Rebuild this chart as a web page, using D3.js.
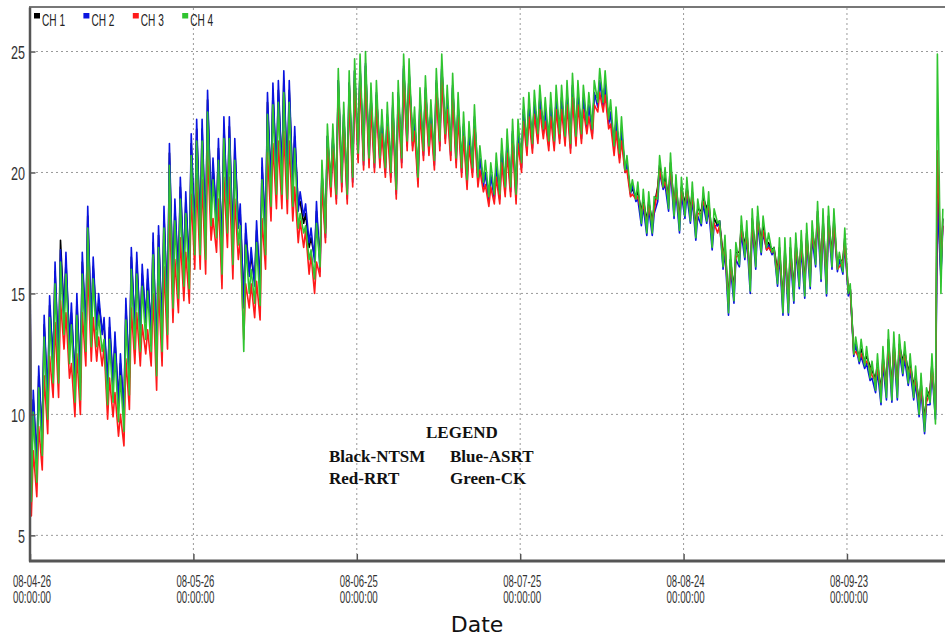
<!DOCTYPE html>
<html>
<head>
<meta charset="utf-8">
<script src="https://cdn.jsdelivr.net/npm/d3@7"></script>
<style>
body { margin: 0; background: #fff; }
</style>
</head>
<body>
<div id="chart"></div>
<script>
// channel names + colours
var channels = ["CH 1", "CH 2", "CH 3", "CH 4"];
var colors = ["#000000", "#0a14e0", "#ff1a1a", "#30c430"];
var legendRows = [["Black-NTSM", "Blue-ASRT"], ["Red-RRT", "Green-CK"]];

// first day 08-04-26 00:00, ticks every 30 days
var startDate = Date.UTC(2008, 3, 26);
var tickDays = [0, 30, 60, 90, 120, 150];
var yTicks = [5, 10, 15, 20, 25];

// value at the first sample, then daily low / daily high
var startVals = [15.6, 16.1, 15.4, 15.0];

var ch1Hi = [10.6,11.6,13.7,14.5,15.9,17.2,16.3,14.2,14.6,16.3,18.2,16.1,14.6,13.6,13.6,13.0,12.1,14.4,16.5,16.3,
15.8,15.6,17.1,17.4,18.2,20.8,18.5,19.4,18.8,21.2,21.8,21.8,23.0,20.2,21.0,21.9,21.9,21.0,18.3,17.5,
16.5,17.6,20.2,22.9,23.3,23.4,23.8,23.4,21.5,18.8,18.3,17.3,18.4,20.0,21.5,21.5,23.8,22.4,23.7,24.2,
24.3,24.4,23.1,23.2,22.0,22.3,22.7,23.2,24.3,24.1,22.1,22.9,23.4,22.4,23.7,24.3,23.0,23.5,22.7,21.9,
21.5,22.2,20.5,19.9,19.8,20.2,20.8,21.2,21.6,21.6,22.5,22.7,22.8,23.0,22.5,22.7,23.0,23.0,23.2,23.5,
23.2,23.0,22.7,23.2,23.7,23.6,22.4,22.1,21.7,20.3,19.3,19.2,18.9,18.8,18.6,20.3,19.8,20.4,19.5,19.4,
19.4,19.2,18.5,19.0,18.8,18.1,18.0,17.0,16.4,16.7,17.8,17.6,18.1,18.2,17.8,17.1,16.9,16.9,16.9,16.9,
17.1,17.2,17.5,17.6,18.4,18.1,18.2,18.1,16.3,17.3,15.2,12.8,12.7,12.4,11.8,12.1,12.4,13.1,13.0,12.9,
12.6,12.1,11.6,11.3,10.7,12.1,19.6,18.1];
var ch1Lo = [7.3,8.1,9.2,10.7,12.2,12.2,14.2,13.0,11.4,11.5,13.5,13.7,13.7,13.5,11.3,11.4,10.6,10.2,11.7,13.6,
13.5,14.0,13.5,12.5,13.5,14.2,15.3,15.7,16.2,16.1,17.5,17.5,17.3,18.7,18.2,16.7,18.4,17.1,17.9,14.6,
15.9,15.5,15.4,17.5,19.5,20.0,20.0,19.8,19.5,18.6,17.9,16.9,16.5,16.3,17.7,19.6,19.3,19.8,19.3,20.0,
21.0,20.7,20.8,20.6,20.8,20.4,20.2,19.5,20.8,21.5,21.5,20.0,21.1,21.3,20.7,21.5,21.8,21.1,20.8,20.4,
19.9,20.4,20.0,19.8,19.2,19.3,19.3,19.6,19.6,19.3,20.6,21.3,21.4,21.8,22.0,21.5,21.5,21.8,21.7,21.4,
21.7,21.8,22.2,22.0,23.1,23.1,22.1,21.3,21.0,20.2,19.2,19.0,18.4,18.0,18.0,19.4,19.5,19.0,18.7,18.1,
18.7,18.5,17.8,18.4,18.5,17.4,17.8,16.6,14.7,15.2,16.7,17.0,15.6,16.6,17.2,17.0,16.8,15.9,14.7,14.7,
15.2,15.8,15.4,15.8,16.7,16.1,15.5,16.6,16.1,16.4,15.0,12.6,12.4,12.2,12.0,11.5,11.0,11.2,11.1,11.2,
12.2,11.8,11.2,10.5,9.8,11.0,10.0,15.8];

var ch2Hi = [11.0,12.0,14.1,14.9,16.3,16.8,16.7,14.6,15.0,16.7,18.6,16.5,15.0,14.0,14.0,13.4,12.5,14.8,16.9,16.7,
16.2,16.0,17.5,17.8,18.6,21.2,18.9,19.8,19.2,21.6,22.2,22.2,23.4,20.6,21.4,22.3,22.3,21.4,18.7,17.9,
16.9,18.0,20.6,23.3,23.7,23.8,24.2,23.8,21.9,19.2,18.7,17.7,18.8,20.0,21.5,21.5,23.8,22.4,23.7,24.2,
24.4,24.5,23.2,23.3,22.1,22.4,22.8,23.3,24.4,24.2,22.2,23.0,23.5,22.5,23.8,24.4,23.1,23.6,22.8,22.0,
21.6,22.3,20.6,20.0,19.9,20.3,20.9,21.3,21.7,21.7,22.6,22.8,22.9,23.1,22.6,22.8,23.1,23.1,23.3,23.6,
23.3,23.1,22.8,23.3,23.8,23.7,22.5,22.2,21.8,20.4,19.5,18.9,18.6,18.5,18.3,20.0,19.5,20.1,19.2,19.1,
19.1,18.9,18.2,18.7,18.5,17.8,18.0,16.7,16.1,16.4,17.5,17.3,17.8,17.9,17.5,17.0,16.8,16.6,16.6,16.6,
16.8,16.9,17.2,17.3,18.1,17.8,17.9,17.8,16.4,17.0,15.2,12.9,12.4,12.1,11.5,11.8,12.1,12.8,12.7,12.6,
12.3,11.8,11.3,11.0,10.4,11.8,18.9,17.8];
var ch2Lo = [7.1,7.9,9.0,10.5,12.0,12.0,14.0,12.8,11.2,11.3,13.3,13.5,13.5,13.3,11.1,11.2,10.4,10.0,11.5,13.4,
13.3,13.8,13.3,12.3,13.3,14.0,15.1,15.5,16.0,15.9,17.3,17.3,17.1,18.5,18.0,16.5,18.2,16.9,17.7,14.4,
15.7,15.3,15.2,17.3,19.3,19.8,19.8,19.6,19.3,18.4,18.2,17.1,16.3,15.9,17.3,19.2,18.9,19.4,18.9,19.6,
20.6,20.3,20.4,20.2,20.4,20.0,19.8,19.1,20.4,21.1,21.1,19.6,20.7,20.9,20.3,21.1,21.4,20.7,20.4,20.0,
19.5,20.0,19.6,19.4,18.8,18.9,18.9,19.2,19.2,18.9,20.2,20.9,21.0,21.4,21.6,21.1,21.1,21.4,21.3,21.0,
21.3,21.4,21.8,21.6,22.7,22.7,22.0,20.9,20.6,20.0,19.1,18.8,17.8,17.4,17.4,18.8,19.3,18.4,18.1,17.5,
18.1,17.9,17.2,17.8,17.9,16.8,17.8,16.0,14.1,14.6,16.1,16.4,15.0,16.0,16.6,16.8,16.6,15.3,14.1,14.1,
14.6,15.2,14.8,15.2,16.1,15.5,14.9,16.0,15.9,15.8,14.9,12.4,12.1,11.9,11.4,10.9,10.4,10.6,10.5,10.6,
11.6,11.2,10.6,9.9,9.2,10.4,9.8,15.6];

var ch3Hi = [8.5,9.5,11.6,12.4,13.8,14.7,14.2,12.1,12.5,14.2,16.1,14.0,13.2,12.8,11.5,10.9,10.0,12.3,14.4,14.2,
13.7,13.5,15.0,15.3,16.1,18.7,16.4,17.3,16.7,19.1,19.7,19.7,20.9,18.1,18.9,19.8,19.8,18.9,17.2,15.4,
15.4,15.5,18.1,20.8,21.2,21.3,21.7,21.3,19.4,18.0,17.6,16.6,16.3,19.5,21.0,21.0,23.3,21.9,23.2,23.7,
23.9,24.0,22.7,22.8,21.6,21.9,22.3,22.8,23.9,23.7,21.7,22.5,23.0,22.0,23.3,23.9,22.6,23.1,22.3,21.5,
21.1,21.8,20.1,19.5,19.4,19.8,20.4,20.8,21.2,21.2,22.1,22.3,22.4,22.6,22.1,22.3,22.6,22.6,22.8,23.1,
22.8,22.6,22.3,22.8,23.3,23.2,22.0,21.7,21.3,20.1,19.1,19.0,18.7,18.6,18.4,20.1,19.6,20.2,19.3,19.2,
19.2,19.0,18.3,18.8,18.6,17.9,17.8,16.8,16.2,16.5,17.6,17.4,17.9,18.0,17.6,16.9,16.8,16.7,16.7,16.7,
16.9,17.0,17.3,17.4,18.2,17.9,18.0,17.9,16.1,17.1,15.2,12.6,12.5,12.2,11.6,11.9,12.2,12.9,12.8,12.7,
12.4,11.9,11.4,11.1,10.5,11.9,20.9,17.8];
var ch3Lo = [5.8,6.6,7.7,9.2,10.7,10.7,12.7,11.5,9.9,10.0,12.0,12.2,12.2,12.0,9.8,9.9,9.1,8.7,10.2,12.1,
12.0,12.5,12.0,11.0,12.0,12.7,13.8,14.2,14.7,14.6,16.0,16.0,15.8,17.2,16.7,15.2,16.9,15.6,16.4,13.1,
14.4,14.0,13.9,16.0,18.0,18.5,18.5,18.3,18.0,17.1,16.9,15.8,15.0,15.7,17.1,19.0,18.7,19.2,18.7,19.4,
20.4,20.1,20.2,20.0,20.2,19.8,19.6,18.9,20.2,20.9,20.9,19.4,20.5,20.7,20.1,20.9,21.2,20.5,20.2,19.8,
19.3,19.8,19.4,19.2,18.6,18.7,18.7,19.0,19.0,18.7,20.0,20.7,20.8,21.2,21.4,20.9,20.9,21.2,21.1,20.8,
21.1,21.2,21.6,21.4,22.5,22.5,21.8,20.7,20.4,20.0,19.0,18.9,18.3,17.9,17.9,19.3,19.4,18.9,18.6,18.0,
18.6,18.4,17.7,18.3,18.4,17.3,17.5,16.5,14.6,15.1,16.6,16.9,15.5,16.5,17.1,16.8,16.7,15.8,14.6,14.6,
15.1,15.7,15.3,15.7,16.6,16.0,15.4,16.5,16.0,16.3,15.1,12.5,12.3,12.1,11.9,11.4,10.9,11.1,11.0,11.1,
12.1,11.7,11.1,10.4,9.7,10.9,10.2,16.2];

var ch4Hi = [10.1,11.1,13.2,14.0,15.4,16.3,15.8,13.7,14.1,15.8,17.7,15.6,14.1,13.1,13.1,12.5,11.6,13.9,16.0,15.8,
15.3,15.1,16.6,16.9,17.7,20.3,18.0,18.9,18.3,20.7,21.3,21.3,22.5,19.7,20.5,21.4,21.4,20.5,17.8,17.0,
16.0,17.1,19.7,22.4,22.8,22.9,23.3,22.9,21.0,18.3,17.8,16.8,17.9,20.5,22.0,22.0,24.3,22.9,24.2,24.7,
24.9,25.0,23.7,23.8,22.6,22.9,23.3,23.8,24.9,24.7,22.7,23.5,24.0,23.0,24.3,24.9,23.6,24.1,23.3,22.5,
22.1,22.8,21.1,20.5,20.4,20.8,21.4,21.8,22.2,22.2,23.1,23.3,23.4,23.6,23.1,23.3,23.6,23.6,23.8,24.1,
23.8,23.6,23.3,23.8,24.3,24.2,23.0,22.7,22.3,20.7,19.7,19.6,19.3,19.2,19.0,20.7,20.2,20.8,19.9,19.8,
19.8,19.6,18.9,19.4,19.2,18.5,18.0,17.4,16.8,17.1,18.2,18.0,18.5,18.6,18.2,17.5,16.9,17.3,17.3,17.3,
17.5,17.6,17.9,18.0,18.8,18.5,18.6,18.5,16.7,17.7,15.4,13.2,13.1,12.8,12.2,12.5,12.8,13.5,13.4,13.3,
13.0,12.5,12.0,11.7,11.1,12.5,24.9,18.5];
var ch4Lo = [6.4,7.2,8.3,9.8,11.3,11.3,13.3,12.1,10.5,10.6,12.6,12.8,12.8,12.6,10.4,10.5,9.7,9.3,10.8,12.7,
12.6,13.1,12.6,11.6,12.6,13.3,14.4,14.8,15.3,15.2,16.6,16.6,16.4,17.8,17.3,15.8,17.5,16.2,17.0,12.6,
15.0,14.6,14.5,16.6,18.6,19.1,19.1,18.9,18.6,17.7,17.5,16.4,15.6,16.1,17.5,19.4,19.1,19.6,19.1,19.8,
20.8,20.5,20.6,20.4,20.6,20.2,20.0,19.3,20.6,21.3,21.3,19.8,20.9,21.1,20.5,21.3,21.6,20.9,20.6,20.2,
19.7,20.2,19.8,19.6,19.0,19.1,19.1,19.4,19.4,19.1,20.4,21.1,21.2,21.6,21.8,21.3,21.3,21.6,21.5,21.2,
21.5,21.6,22.0,21.8,22.9,22.9,22.2,21.1,20.8,20.1,19.2,18.9,17.9,17.5,17.5,18.9,19.4,18.5,18.2,17.6,
18.2,18.0,17.3,17.9,18.0,16.9,17.9,16.1,14.2,14.7,16.2,16.5,15.1,16.1,16.7,16.9,16.7,15.4,14.2,14.2,
14.7,15.3,14.9,15.3,16.2,15.6,15.0,16.1,16.0,15.9,15.0,12.5,12.2,12.0,11.5,11.0,10.5,10.7,10.6,10.7,
11.7,11.3,10.7,10.0,9.3,10.5,9.6,15.0];

var hiData = [ch1Hi, ch2Hi, ch3Hi, ch4Hi];
var loData = [ch1Lo, ch2Lo, ch3Lo, ch4Lo];

(function () {
var width = 945,
height = 637;
var DAY = 864e5;

var svg = d3.select("#chart")
.append("svg")
.attr("width", width)
.attr("height", height)
.style("font-family", "'Liberation Sans', Arial, sans-serif");

var x = d3.scaleUtc()
.domain([startDate, startDate + 168 * DAY])
.range([30, 945]);

var y = d3.scaleLinear()
.domain([3.94, 26.84])
.range([561, 7]);

// build each channel: first sample, then low in the morning and high in the afternoon
var series = channels.map(function (name, i) {
	var pts = [{ t: startDate, v: startVals[i] }];
	for (var d = 0; d < hiData[i].length; d++) {
		pts.push({ t: startDate + (d + 0.25) * DAY, v: loData[i][d] });
		pts.push({ t: startDate + (d + 0.6) * DAY, v: hiData[i][d] });
	}
	return { name: name, color: colors[i], values: pts };
});

svg.append("defs").append("clipPath")
.attr("id", "plotclip")
.append("rect")
.attr("x", 30)
.attr("y", 7)
.attr("width", 915)
.attr("height", 554);

// grid
svg.append("g")
.selectAll("line")
.data(yTicks)
.enter().append("line")
.attr("x1", 36)
.attr("x2", width)
.attr("y1", function (d) { return y(d) })
.attr("y2", function (d) { return y(d) })
.attr("stroke", "#9a9a9a")
.attr("stroke-width", 1)
.attr("stroke-dasharray", "2,3");

svg.append("g")
.selectAll("line")
.data(tickDays)
.enter().append("line")
.attr("x1", function (d) { return x(startDate + d * DAY) })
.attr("x2", function (d) { return x(startDate + d * DAY) })
.attr("y1", 8)
.attr("y2", 554)
.attr("stroke", "#9a9a9a")
.attr("stroke-width", 1)
.attr("stroke-dasharray", "2,3");

// lines, CH 4 drawn last so green sits on top
var line = d3.line()
.x(function (d) { return x(d.t) })
.y(function (d) { return y(d.v) });

svg.append("g")
.attr("clip-path", "url(#plotclip)")
.selectAll("path")
.data(series)
.enter().append("path")
.attr("d", function (d) { return line(d.values) })
.attr("fill", "none")
.attr("stroke", function (d) { return d.color })
.attr("stroke-width", 1.6)
.attr("stroke-linejoin", "round");

// frame
svg.append("line")
.attr("x1", 29).attr("x2", width)
.attr("y1", 7).attr("y2", 7)
.attr("stroke", "#777").attr("stroke-width", 2);

// y axis
var yAxis = d3.axisLeft(y)
.tickValues(yTicks)
.tickSizeInner(-6)
.tickSizeOuter(0)
.tickPadding(4.5)
.tickFormat(d3.format("d"));

var gy = svg.append("g")
.attr("transform", "translate(29.5,0)")
.call(yAxis);
gy.select(".domain").attr("stroke", "#555").attr("stroke-width", 2.5);
gy.selectAll(".tick line").attr("stroke", "#555").attr("stroke-width", 1.5);
gy.selectAll(".tick text")
.attr("font-size", 19)
.attr("fill", "#333")
.attr("dy", "0.36em")
.attr("textLength", function (d) { return String(d).length * 7 })
.attr("lengthAdjust", "spacingAndGlyphs");

// x axis
var xAxis = d3.axisBottom(x)
.tickValues(tickDays.map(function (d) { return new Date(startDate + d * DAY) }))
.tickSizeInner(-7)
.tickSizeOuter(0)
.tickFormat("");

var gx = svg.append("g")
.attr("transform", "translate(0,561)")
.call(xAxis);
gx.select(".domain").attr("stroke", "#555").attr("stroke-width", 3).attr("d", "M29,0H945");
gx.selectAll(".tick line").attr("stroke", "#555").attr("stroke-width", 1.5);

var fmtDay = d3.utcFormat("%y-%m-%d");
var fmtTime = d3.utcFormat("%H:%M:%S");

var xLabels = svg.append("g")
.selectAll("g")
.data(tickDays)
.enter().append("g")
.attr("transform", function (d) { return "translate(" + (x(startDate + d * DAY) + 2) + ",0)" });

xLabels.append("text")
.attr("y", 587)
.attr("text-anchor", "middle")
.attr("font-size", 16)
.attr("fill", "#333")
.attr("textLength", 38)
.attr("lengthAdjust", "spacingAndGlyphs")
.text(function (d) { return fmtDay(new Date(startDate + d * DAY)) });

xLabels.append("text")
.attr("y", 603)
.attr("text-anchor", "middle")
.attr("font-size", 16)
.attr("fill", "#333")
.attr("textLength", 38)
.attr("lengthAdjust", "spacingAndGlyphs")
.text(function (d) { return fmtTime(new Date(startDate + d * DAY)) });

svg.append("text")
.attr("x", 477)
.attr("y", 632)
.attr("text-anchor", "middle")
.attr("font-family", "'DejaVu Sans', Verdana, sans-serif")
.attr("font-size", 22)
.attr("fill", "#111")
.text("Date");

// top legend
var legend = svg.append("g")
.selectAll("g")
.data(series)
.enter().append("g")
.attr("transform", function (d, i) { return "translate(" + (34 + i * 49.4) + ",0)" });

legend.append("rect")
.attr("x", 0)
.attr("y", 13)
.attr("width", 6)
.attr("height", 5.5)
.attr("fill", function (d) { return d.color });

legend.append("text")
.attr("x", 8)
.attr("y", 26)
.attr("font-size", 16)
.attr("fill", "#222")
.attr("textLength", 23)
.attr("lengthAdjust", "spacingAndGlyphs")
.text(function (d) { return d.name });

// text legend inside the plot
var note = svg.append("g")
.attr("font-family", "'Liberation Serif', 'Times New Roman', serif")
.attr("font-weight", "bold")
.attr("font-size", 17)
.attr("fill", "#111");

note.append("text")
.attr("x", 426)
.attr("y", 438)
.text("LEGEND");

note.selectAll(".row")
.data(legendRows)
.enter().append("g")
.attr("class", "row")
.each(function (row, r) {
	d3.select(this).selectAll("text")
	.data(row)
	.enter().append("text")
	.attr("x", function (d, c) { return c === 0 ? 329 : 450 })
	.attr("y", 461.5 + r * 22.5)
	.text(function (d) { return d });
});

})();
</script>
</body>
</html>
